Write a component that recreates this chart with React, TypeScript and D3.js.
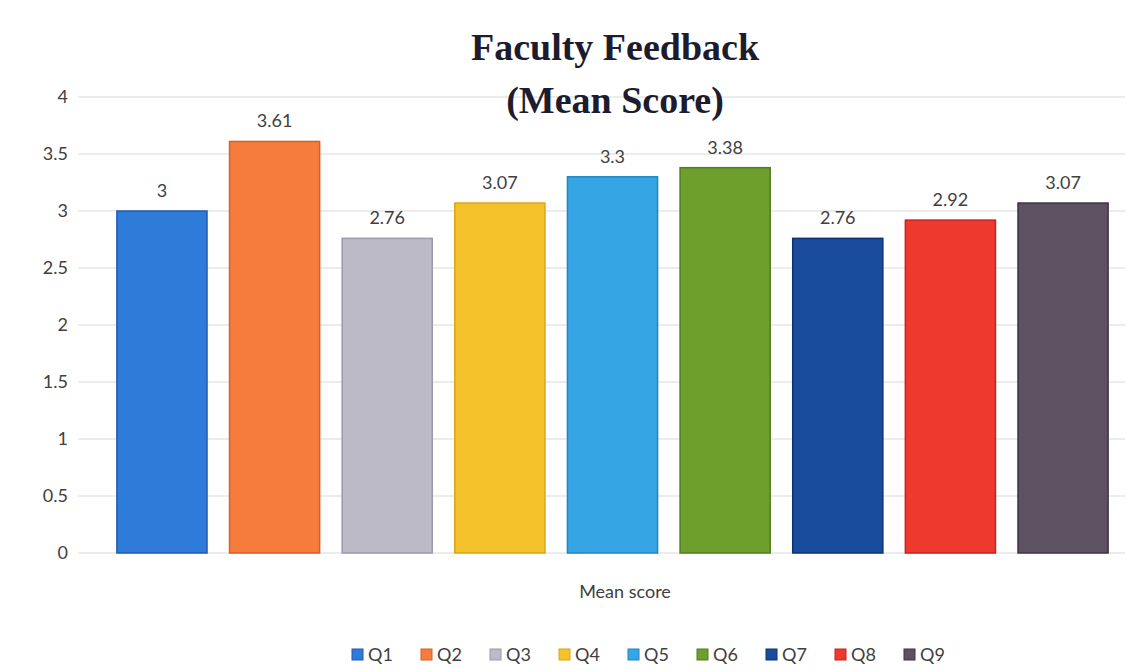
import React from "react";
import * as d3 from "d3";

const categories = ["Q1", "Q2", "Q3", "Q4", "Q5", "Q6", "Q7", "Q8", "Q9"];
const meanScores = [3, 3.61, 2.76, 3.07, 3.3, 3.38, 2.76, 2.92, 3.07];
const colors = ["#2F7BD9", "#F57C3C", "#BDBAC8", "#F4C32C", "#36A5E4", "#6E9F2C", "#1A4C9E", "#EE3A2E", "#5E5262"];
const strokes = ["#1F5BB0", "#D95F22", "#9C99AA", "#D9A615", "#1F86C4", "#4F7E1A", "#0F2F70", "#C8201A", "#3E3442"];
const yTicks = [0, 0.5, 1, 1.5, 2, 2.5, 3, 3.5, 4];

const W = 1128;
const H = 671;
const left = 100;
const right = 1125;
const top = 97;
const bottom = 553;

export default function App() {
  const x = d3.scaleBand<string>().domain(categories).range([left, right]).paddingInner(0.2).paddingOuter(0.15);
  const y = d3.scaleLinear().domain([0, 4]).range([bottom, top]);
  const font = "Lato, 'Open Sans', sans-serif";
  const legendStep = 69;
  const legendStart = 352;

  return (
    <svg width={W} height={H} style={{ position: "absolute", left: 0, top: 0, background: "#fff" }}>
      <rect x={0} y={0} width={W} height={H} fill="#fff" />
      {yTicks.map((t) => (
        <g key={t}>
          <line x1={78} x2={right} y1={y(t)} y2={y(t)} stroke="#d9d9d9" strokeWidth={1} />
          <text x={68} y={y(t)} dy="0.35em" textAnchor="end" fontFamily={font} fontSize={18} fill="#404040">
            {t}
          </text>
        </g>
      ))}
      {categories.map((c, i) => (
        <g key={c}>
          <rect
            x={x(c)}
            y={y(meanScores[i])}
            width={x.bandwidth()}
            height={y(0) - y(meanScores[i])}
            fill={colors[i]}
            stroke={strokes[i]}
            strokeWidth={1.5}
          />
          <text
            x={(x(c) as number) + x.bandwidth() / 2}
            y={y(meanScores[i]) - 14}
            textAnchor="middle"
            fontFamily={font}
            fontSize={18}
            fill="#404040"
          >
            {meanScores[i]}
          </text>
        </g>
      ))}
      <text x={615} y={60} textAnchor="middle" fontFamily="'Liberation Serif', 'Times New Roman', serif" fontWeight="bold" fontSize={38} fill="#1c1c2e">
        Faculty Feedback
      </text>
      <text x={615} y={113} textAnchor="middle" fontFamily="'Liberation Serif', 'Times New Roman', serif" fontWeight="bold" fontSize={38} fill="#1c1c2e">
        (Mean Score)
      </text>
      <text x={625} y={598} textAnchor="middle" fontFamily={font} fontSize={18} fill="#404040">
        Mean score
      </text>
      {categories.map((c, i) => (
        <g key={"lg" + c} transform={`translate(${legendStart + i * legendStep},655)`}>
          <rect x={0} y={-6} width={11} height={11} fill={colors[i]} stroke={strokes[i]} strokeWidth={1} />
          <text x={16} y={0} dy="0.35em" fontFamily={font} fontSize={18} fill="#404040">
            {c}
          </text>
        </g>
      ))}
    </svg>
  );
}
